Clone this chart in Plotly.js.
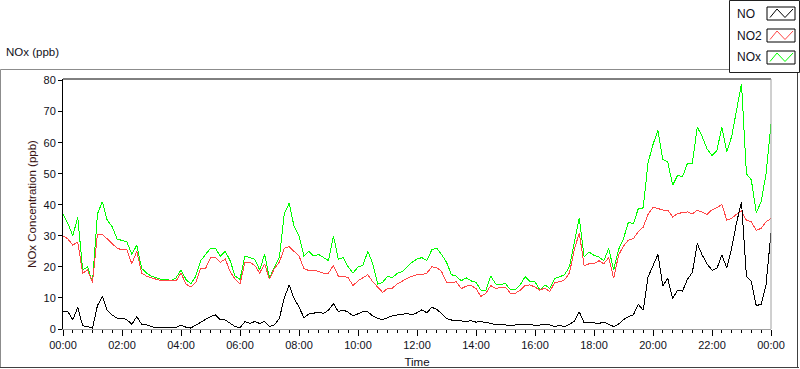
<!DOCTYPE html>
<html>
<head>
<meta charset="utf-8">
<script src="https://cdn.plot.ly/plotly-3.0.1.min.js"></script>
<style>
html,body{margin:0;padding:0;background:#fff;}
#chart{width:800px;height:369px;}
#chart .js-line{shape-rendering:crispEdges;}
</style>
</head>
<body>
<div id="chart"></div>
<script>
// ---- data (10-minute readings over one day, hours from 00:00) ----
const seriesNames = ["NO", "NO2", "NOx"];
const stepMinutes = 10;

const no = [
 5.5,5.5,3,7,1,0.8,0.3,7.5,10.5,6,4.5,3.5,3.5,3,1.5,4,1.5,1.3,0.8,0.4,0.4,0.4,0.5,0.5,1.2,0.6,0.3,1.2,2.2,3,4,
 4.5,2.9,2.9,1.8,0.8,0.4,2.4,1.8,2.4,1.8,2.4,0.8,1.3,3.4,10,14.2,9.8,7.1,3.6,4.8,5,5.4,5,6.1,8.2,5.6,6.1,5.4,4.2,
 4.8,5.6,5.5,4.2,3.4,3,3.6,4.3,4.5,4.8,5,4.6,5.2,6.2,5.2,7.0,6.3,5.0,3.4,2.9,2.6,2.6,2.4,2.7,2.2,2.4,2.2,1.8,1.3,
 1.6,1.3,1,1.3,1.4,1.3,1.6,1,1.3,1.6,1.3,0.8,1.1,0.8,1.5,2.5,5.5,2,2.1,2,1.8,2.2,1.5,0.8,1.6,3,4,4.5,8,6,
 16.8,20.6,24,13.9,16.3,9.8,12.5,12.2,16,18.2,27.5,23.8,21,18.9,19.5,23.8,19.7,26,34.3,41,17,15.3,7.5,8,14.4,31
];
const no2 = [
 30,29,27,28,18,19,15,30.5,30.5,29,27.5,26,25.5,25.5,21,25,18,17,16.5,16,15.5,15.5,15.5,15.5,18,14.5,13.5,15,19.5,19.5,23,
 23,21.5,22.5,18.5,16,14.5,21.5,21.5,20.5,18,21,16,19.5,21.5,26,26.5,25,23.5,19.5,18.8,19,18.5,18,18,20.5,17,17,16.5,14,
 15.5,16.5,17.5,15.2,13.5,11.8,13,13.2,14.5,15.5,16.3,17,17.5,17.5,18,20,19.8,18.5,15,15,15.2,13,13.8,14,13,10.5,11.5,14,13,
 13.5,13.5,11.5,11.5,12.5,14,14.2,13.5,12.5,13.2,12,15,15.2,15.8,18,25.5,31,20.4,21,21,22,21,23,16.3,23.8,26.7,28.6,29.1,31.3,32.8,
 36.9,39.2,38.8,38.3,38.3,36.1,37.2,37.5,37.7,37.1,38.2,37.7,36.9,38.4,39.1,40.1,35.1,35.6,37,38,35,34.5,31.8,32.4,34.5,35.6
];
const nox = [
 37,34,30,36,19,20,15,37,41,35,33,29,28.5,28,24,27,19.5,18,17,16.5,16,16,15.5,16.5,19,16,14.5,17,22,24,26,
 26,23.5,25,22,17,16,23.5,23,22.5,19,24,16.5,19.5,23,37,40.5,33,30,23.5,25,23.5,24,23,22,30,22.5,23,20,18,
 20,20.5,25,21,14.5,15,17,16.5,18,18.5,20,21.5,22.5,23,22,25.5,26,24,21.5,17.5,17,15.5,16.5,15.5,15,12.5,12.5,17,14.5,
 14.2,14.7,12.6,12.6,14.2,16.9,15.2,15.2,12.6,14.2,13.1,16.3,16.9,17.4,20.1,27.6,35.7,23.2,24.8,23.7,23.2,22,25.9,19,25.6,29.1,34.4,33.9,38.7,39,
 53.6,59.4,64,54.6,53.8,46.3,49.5,49,53.3,53.3,65,62,58,55.9,57.5,65,57,62,70.9,79,50,48,37.5,41,50,66
];
const tickHours = [0,2,4,6,8,10,12,14,16,18,20,22,24];
const tickLabels = ["00:00","02:00","04:00","06:00","08:00","10:00","12:00","14:00","16:00","18:00","20:00","22:00","00:00"];
const chartTitle = "NOx (ppb)";
const yTitle = "NOx Concentration (ppb)";
const xTitle = "Time";

// ---- build ----
const hours = no.map((_, i) => i * stepMinutes / 60);
const colors = {"NO": "#000000", "NO2": "#ff4646", "NOx": "#00ff00"};
const valuesByName = {"NO": no, "NO2": no2, "NOx": nox};

const traces = ["NOx", "NO2", "NO"].map(n => ({
  x: hours, y: valuesByName[n], name: n, type: "scatter", mode: "lines",
  line: {color: colors[n], width: 1}, showlegend: false, hoverinfo: "skip"
}));

// pixel helpers for decoration (plot area: x 63..771, y 79..329)
const L = 63, R = 771, T = 79, B = 329;
const px = v => (v - L) / (R - L);
const py = v => (B - v) / (B - T);

const FONT = "Liberation Sans, Arial, sans-serif";
const TXT = "#101020";

const shapes = [
  // outer panel frame
  {type: "line", xref: "paper", yref: "paper", x0: px(0.5), x1: px(730), y0: py(69.5), y1: py(69.5), line: {color: "#8c8c8c", width: 1}},
  {type: "line", xref: "paper", yref: "paper", x0: px(0.5), x1: px(0.5), y0: py(69.5), y1: py(368), line: {color: "#8c8c8c", width: 1}},
  {type: "line", xref: "paper", yref: "paper", x0: px(0), x1: px(799), y0: py(367.5), y1: py(367.5), line: {color: "#404040", width: 1}},
  {type: "line", xref: "paper", yref: "paper", x0: px(797.5), x1: px(797.5), y0: py(72), y1: py(368), line: {color: "#404040", width: 1}},
  // plot area border: top black, right gray
  {type: "line", xref: "paper", yref: "paper", x0: 0, x1: 1, y0: 1, y1: 1, line: {color: "#000", width: 1}},
  {type: "line", xref: "paper", yref: "paper", x0: 1, x1: 1, y0: 0, y1: 1, line: {color: "#a0a0a0", width: 1}},
  // legend box
  {type: "rect", xref: "paper", yref: "paper", x0: px(729.5), x1: px(799.5), y0: py(0.5), y1: py(72.5), line: {color: "#202020", width: 1}, fillcolor: "#ffffff"}
];
const annotations = [
  {text: chartTitle, xref: "paper", yref: "paper", x: px(4), y: py(52), xanchor: "left", yanchor: "middle", showarrow: false, font: {family: FONT, size: 11.5, color: TXT}}
];
const rowY = [13.5, 35.5, 57.5];
seriesNames.forEach((n, i) => {
  const cy = rowY[i];
  shapes.push({type: "rect", xref: "paper", yref: "paper", x0: px(767), x1: px(795), y0: py(cy - 6.5), y1: py(cy + 6.5), line: {color: "#000", width: 1}, fillcolor: "#fff"});
  const pts = [[770, cy + 4], [777, cy - 4.5], [785, cy + 4], [793, cy - 4.5]];
  shapes.push({type: "path", xref: "paper", yref: "paper",
    path: "M" + pts.map(p => px(p[0]) + "," + py(p[1])).join(" L"),
    line: {color: colors[n], width: 1}});
  annotations.push({text: n, xref: "paper", yref: "paper", x: px(735), y: py(cy), xanchor: "left", yanchor: "middle", showarrow: false, font: {family: FONT, size: 12, color: TXT}});
});

const layout = {
  width: 800, height: 369,
  margin: {l: L, r: 800 - R, t: T, b: 369 - B, pad: 0},
  paper_bgcolor: "#ffffff", plot_bgcolor: "#ffffff",
  font: {family: FONT, size: 11, color: TXT},
  showlegend: false,
  xaxis: {
    range: [0, 24], tickmode: "array", tickvals: tickHours, ticktext: tickLabels,
    ticks: "outside", ticklen: 6, tickcolor: "#000", tickwidth: 1,
    showline: true, linecolor: "#a0a0a0", linewidth: 1, showgrid: false, zeroline: false,
    minor: {tickmode: "linear", tick0: 0, dtick: 1/3, ticks: "outside", ticklen: 3, tickcolor: "#000", showgrid: false},
    tickfont: {family: FONT, size: 11, color: TXT},
    title: {text: xTitle, standoff: 7, font: {family: FONT, size: 11.5, color: TXT}},
    automargin: false, fixedrange: true
  },
  yaxis: {
    range: [0, 80.5], tickmode: "linear", tick0: 0, dtick: 10,
    ticks: "outside", ticklen: 4, tickcolor: "#000", tickwidth: 1,
    showline: true, linecolor: "#000", linewidth: 1, showgrid: false, zeroline: false,
    tickfont: {family: FONT, size: 11, color: TXT},
    title: {text: yTitle, standoff: 4, font: {family: FONT, size: 11.5, color: "#3a1414"}},
    automargin: false, fixedrange: true
  },
  shapes: shapes,
  annotations: annotations
};

Plotly.newPlot("chart", traces, layout, {displayModeBar: false, staticPlot: true});
</script>
</body>
</html>
